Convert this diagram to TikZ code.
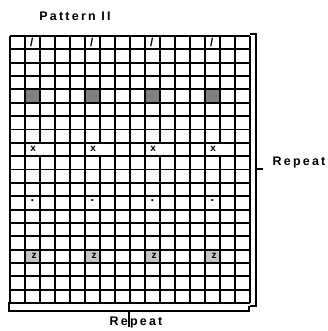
\documentclass[tikz,border=0pt]{standalone}
\usepackage{fontspec}
\setsansfont{Liberation Sans}
\newfontfamily\spacedfont{Liberation Sans}[LetterSpace=18]
\definecolor{cDark}{HTML}{808080}
\definecolor{cLight}{HTML}{C4C4C4}
\newcommand{\cellw}{15}
\newcommand{\cellh}{13.35}
\tikzset{
    x=1bp, y=-1bp,
    gridline/.style={line width=1.9bp, black},
    brace/.style={line width=2.3bp, black},
    darkcell/.style={fill=cDark},
    lightcell/.style={fill=cLight},
    cellmark/.style={font=\sffamily\bfseries\fontsize{10}{10}\selectfont, inner sep=0pt},
    title/.style={font=\spacedfont\bfseries\fontsize{12.5}{14}\selectfont, inner sep=0pt},
}

\begin{document}
\begin{tikzpicture}
    \useasboundingbox (0,0) rectangle (328,331);

    % shaded cells
    \foreach \c in {1,5,9,13} {
        \fill[darkcell] ({10+\c*\cellw},{36+4*\cellh}) rectangle ++(\cellw,\cellh);
        \fill[lightcell] ({10+\c*\cellw},{36+16*\cellh}) rectangle ++(\cellw,\cellh);
    }

    % grid
    \foreach \i in {0,...,16}
        \draw[gridline] ({10+\i*\cellw},36) -- ({10+\i*\cellw},{36+20*\cellh});
    \foreach \j in {0,...,20}
        \draw[gridline] (10,{36+\j*\cellh}) -- (250,{36+\j*\cellh});

    % x cells run over two columns
    \foreach \c in {1,5,9,13}
        \fill[white] ({10+\c*\cellw+1},{36+8*\cellh+1})
            rectangle ({10+(\c+2)*\cellw-1},{36+9*\cellh-1});

    % cell marks
    \foreach \c [count=\k] in {1,5,9,13} {
        \node[cellmark, font=\sffamily\bfseries\fontsize{11.5}{11.5}\selectfont]
            (slash\k) at ({10+(\c+0.45)*\cellw},{36+0.5*\cellh}) {/};
        \node[cellmark] (x\k) at ({10+(\c+0.55)*\cellw},{36+8.45*\cellh}) {x};
        \node[cellmark, font=\sffamily\bfseries\fontsize{13}{13}\selectfont]
            (dot\k) at ({10+(\c+0.5)*\cellw},{36+12.3*\cellh}) {.};
        \node[cellmark] (z\k) at ({10+(\c+0.6)*\cellw},{36+16.5*\cellh}) {z};
    }

    \node[title] (ttl) at (75,16) {Pattern II};

    % brackets
    \draw[brace] (250,34) -- (256,34) -- (256,306) -- (250,306);
    \draw[brace] (9,302) -- (9,311) -- (249,311) -- (249,306);

    \node[title] (rptright) at (299,163) {Repeat};
    \coordinate (rtick) at (256,169);
    \draw[brace] (rtick) -- ++(7,0);

    \node[title] (rptbottom) at (136,323) {Repeat};
    \coordinate (btick) at (129,311);
    \draw[brace, line width=1.8bp] (btick) -- ++(0,16);
\end{tikzpicture}
\end{document}
